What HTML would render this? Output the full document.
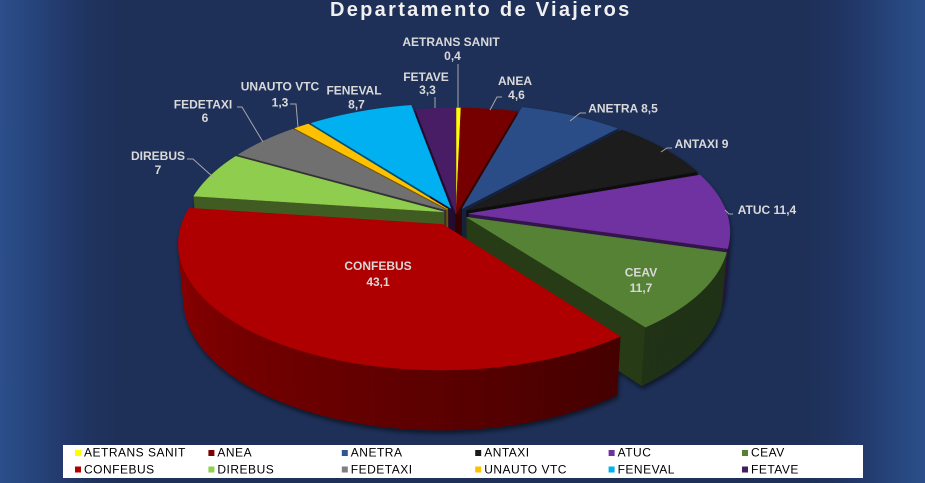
<!DOCTYPE html>
<html>
<head>
<meta charset="utf-8">
<style>
html,body{margin:0;padding:0;width:925px;height:483px;overflow:hidden}
body{background:linear-gradient(to right,#2c4e8a 0%,#27467e 3%,#22396b 7%,#1f335e 10%,#1e3058 13%,#1e3058 87%,#1f335e 90%,#22396b 93%,#27467e 97%,#2c4e8a 100%);font-family:"Liberation Sans",Arial,sans-serif}
svg{position:absolute;left:0;top:0}
.lb{font-family:"Liberation Sans",Arial,sans-serif;font-weight:bold;font-size:12px;fill:#d9d9d9;text-anchor:middle}
.lg{font-family:"Liberation Sans",Arial,sans-serif;font-size:12px;fill:#000;letter-spacing:0.5px}
.ld{stroke:#a6a6a6;stroke-width:1;fill:none}
</style>
</head>
<body>
<svg width="925" height="483" viewBox="0 0 925 483" xmlns="http://www.w3.org/2000/svg">
<defs>
<filter id="sh" x="-10%" y="-10%" width="120%" height="130%">
<feDropShadow dx="1" dy="3" stdDeviation="2.5" flood-color="#000" flood-opacity="0.55"/>
</filter>
</defs>
<text x="330" y="16" font-family="Liberation Sans, Arial, sans-serif" font-weight="bold" font-size="20" letter-spacing="2.3" fill="#f0f0f0">Departamento de Viajeros</text>

<g id="pie" filter="url(#sh)"></g>

<!-- leader lines -->
<polyline class="ld" points="458,64 458,108"/>
<polyline class="ld" points="435,97 435,108"/>
<polyline class="ld" points="502,97 497,97 490,110"/>
<polyline class="ld" points="586,113 580,113 570,121"/>
<polyline class="ld" points="672,148 667,148 661,152"/>
<polyline class="ld" points="733,214 729,214 725,210"/>
<polyline class="ld" points="187,159 193,159 213,177"/>
<polyline class="ld" points="237,107 242,107 263,142"/>
<polyline class="ld" points="290,104 296,104 298,127"/>

<!-- labels -->
<text class="lb" x="451" y="46">AETRANS SANIT</text>
<text class="lb" x="452.5" y="60">0,4</text>
<text class="lb" x="426" y="81">FETAVE</text>
<text class="lb" x="427.5" y="94">3,3</text>
<text class="lb" x="515" y="85">ANEA</text>
<text class="lb" x="516.5" y="99">4,6</text>
<text class="lb" x="623" y="112.5">ANETRA 8,5</text>
<text class="lb" x="701.5" y="148">ANTAXI 9</text>
<text class="lb" x="767" y="214">ATUC 11,4</text>
<text class="lb" x="641" y="276.5">CEAV</text>
<text class="lb" x="641" y="292">11,7</text>
<text class="lb" x="378" y="270">CONFEBUS</text>
<text class="lb" x="378" y="286">43,1</text>
<text class="lb" x="158" y="160">DIREBUS</text>
<text class="lb" x="158" y="174">7</text>
<text class="lb" x="203" y="108.5">FEDETAXI</text>
<text class="lb" x="205" y="122">6</text>
<text class="lb" x="280" y="90.5">UNAUTO VTC</text>
<text class="lb" x="280" y="106.5">1,3</text>
<text class="lb" x="354" y="94.5">FENEVAL</text>
<text class="lb" x="356.5" y="108.5">8,7</text>

<!-- legend -->
<rect x="63" y="445" width="800" height="33" fill="#ffffff"/>
<rect x="75" y="450" width="6" height="6" fill="#ffff00"/>
<text class="lg" x="84" y="456.5">AETRANS SANIT</text>
<rect x="208.4" y="450" width="6" height="6" fill="#7b0000"/>
<text class="lg" x="217.4" y="456.5">ANEA</text>
<rect x="341.8" y="450" width="6" height="6" fill="#2f5597"/>
<text class="lg" x="350.8" y="456.5">ANETRA</text>
<rect x="475.2" y="450" width="6" height="6" fill="#1a1a1a"/>
<text class="lg" x="484.2" y="456.5">ANTAXI</text>
<rect x="608.6" y="450" width="6" height="6" fill="#7030a0"/>
<text class="lg" x="617.6" y="456.5">ATUC</text>
<rect x="742" y="450" width="6" height="6" fill="#548235"/>
<text class="lg" x="751" y="456.5">CEAV</text>

<rect x="75" y="466.5" width="6" height="6" fill="#b00000"/>
<text class="lg" x="84" y="473.3">CONFEBUS</text>
<rect x="208.4" y="466.5" width="6" height="6" fill="#92d050"/>
<text class="lg" x="217.4" y="473.3">DIREBUS</text>
<rect x="341.8" y="466.5" width="6" height="6" fill="#7f7f7f"/>
<text class="lg" x="350.8" y="473.3">FEDETAXI</text>
<rect x="475.2" y="466.5" width="6" height="6" fill="#ffc000"/>
<text class="lg" x="484.2" y="473.3">UNAUTO VTC</text>
<rect x="608.6" y="466.5" width="6" height="6" fill="#00b0f0"/>
<text class="lg" x="617.6" y="473.3">FENEVAL</text>
<rect x="742" y="466.5" width="6" height="6" fill="#3f1f5f"/>
<text class="lg" x="751" y="473.3">FETAVE</text>
</svg>

<script>
(function(){
var vals=[0.4,4.6,8.5,9,11.4,11.7,43.1,7,6,1.3,8.7,3.3];
var tops=['#ffff00','#760000','#2b4e88','#1a1a1a','#7030a0','#548235','#ae0000','#8fcd50','#6f6f6f','#ffc000','#00b0f0','#4a1f66'];
var ex=[0,0,.05,.05,.05,.05,.1,.05,.05,.05,.05,0];
var cx=456,cy=213.8,k0=258,D=6.09,s=0.4695,c=0.8829,h=0.2395;
function P(X,Y,Z){var den=1+(Y*c-Z*s)/D;return [cx+k0*X/den, cy-k0*(Y*s+Z*c)/den];}
var cam=[0,-D*c,D*s];
function vis(n,p){return n[0]*(cam[0]-p[0])+n[1]*(cam[1]-p[1])+n[2]*(cam[2]-p[2])>0;}
function rgb(hx){return [parseInt(hx.substr(1,2),16),parseInt(hx.substr(3,2),16),parseInt(hx.substr(5,2),16)];}
function shade(hx,m){var r=rgb(hx);return 'rgb('+r.map(function(v){return Math.min(255,Math.round(v*m));}).join(',')+')';}
function pts(a){return a.map(function(p){return p[0].toFixed(2)+','+p[1].toFixed(2);}).join(' ');}
var total=0;vals.forEach(function(v){total+=v;});
var rad=Math.PI/180;
var slices=[],acc=0;
for(var i=0;i<vals.length;i++){var a=acc/total*360;acc+=vals[i];var b=acc/total*360;slices.push({i:i,a:a,b:b});}
slices.forEach(function(sl){var beta=(sl.a+sl.b)/2*rad;var e=ex[sl.i];sl.ox=e*Math.sin(beta);sl.oy=e*Math.cos(beta);sl.depth=sl.oy+0.5*Math.cos(beta);});
var order=slices.slice().sort(function(p,q){return q.depth-p.depth;});
var sideSvg=[],topSvg=[];
order.forEach(function(sl){
  var ox=sl.ox,oy=sl.oy,col=tops[sl.i],out=[];
  var rm=(sl.i===0)?0.8:0.45;
  [[sl.a,-1],[sl.b,1]].forEach(function(f){
    var t=f[0]*rad;var dx=Math.sin(t),dy=Math.cos(t);
    var n=f[1]<0?[-Math.cos(t),Math.sin(t),0]:[Math.cos(t),-Math.sin(t),0];
    var pm=[ox+0.5*dx,oy+0.5*dy,-h/2];
    if(vis(n,pm)){
      var q=[P(ox,oy,0),P(ox+dx,oy+dy,0),P(ox+dx,oy+dy,-h),P(ox,oy,-h)];
      var fc=shade(col,rm);
      out.push('<polygon points="'+pts(q)+'" fill="'+fc+'" stroke="'+fc+'" stroke-width="0.6" stroke-linejoin="round"/>');
    }
  });
  var N=Math.max(2,Math.ceil(sl.b-sl.a));
  for(var k=0;k<N;k++){
    var t0=sl.a+(sl.b-sl.a)*k/N,t1=sl.a+(sl.b-sl.a)*(k+1)/N,tm=(t0+t1)/2*rad;
    var n=[Math.sin(tm),Math.cos(tm),0],pm=[ox+Math.sin(tm),oy+Math.cos(tm),-h/2];
    if(!vis(n,pm))continue;
    var A=t0*rad,B=t1*rad;
    var q=[P(ox+Math.sin(A),oy+Math.cos(A),0),P(ox+Math.sin(B),oy+Math.cos(B),0),P(ox+Math.sin(B),oy+Math.cos(B),-h),P(ox+Math.sin(A),oy+Math.cos(A),-h)];
    var th=(t0+t1)/2;var m=Math.min(0.8,Math.max(0.38,0.40+(th-145)*0.00345));
    var fc=shade(col,m);
    out.push('<polygon points="'+pts(q)+'" fill="'+fc+'" stroke="'+fc+'" stroke-width="0.7" stroke-linejoin="round"/>');
  }
  sideSvg.push(out.join(''));
  var tp=[P(ox,oy,0)];var M=Math.max(2,Math.ceil((sl.b-sl.a)*2));
  for(var j=0;j<=M;j++){var t=(sl.a+(sl.b-sl.a)*j/M)*rad;tp.push(P(ox+Math.sin(t),oy+Math.cos(t),0));}
  topSvg.push('<polygon points="'+pts(tp)+'" fill="'+col+'" stroke="'+col+'" stroke-width="0.5" stroke-linejoin="round"/>');
});
document.getElementById('pie').innerHTML=sideSvg.join('')+topSvg.join('');
})();
</script>
</body>
</html>
